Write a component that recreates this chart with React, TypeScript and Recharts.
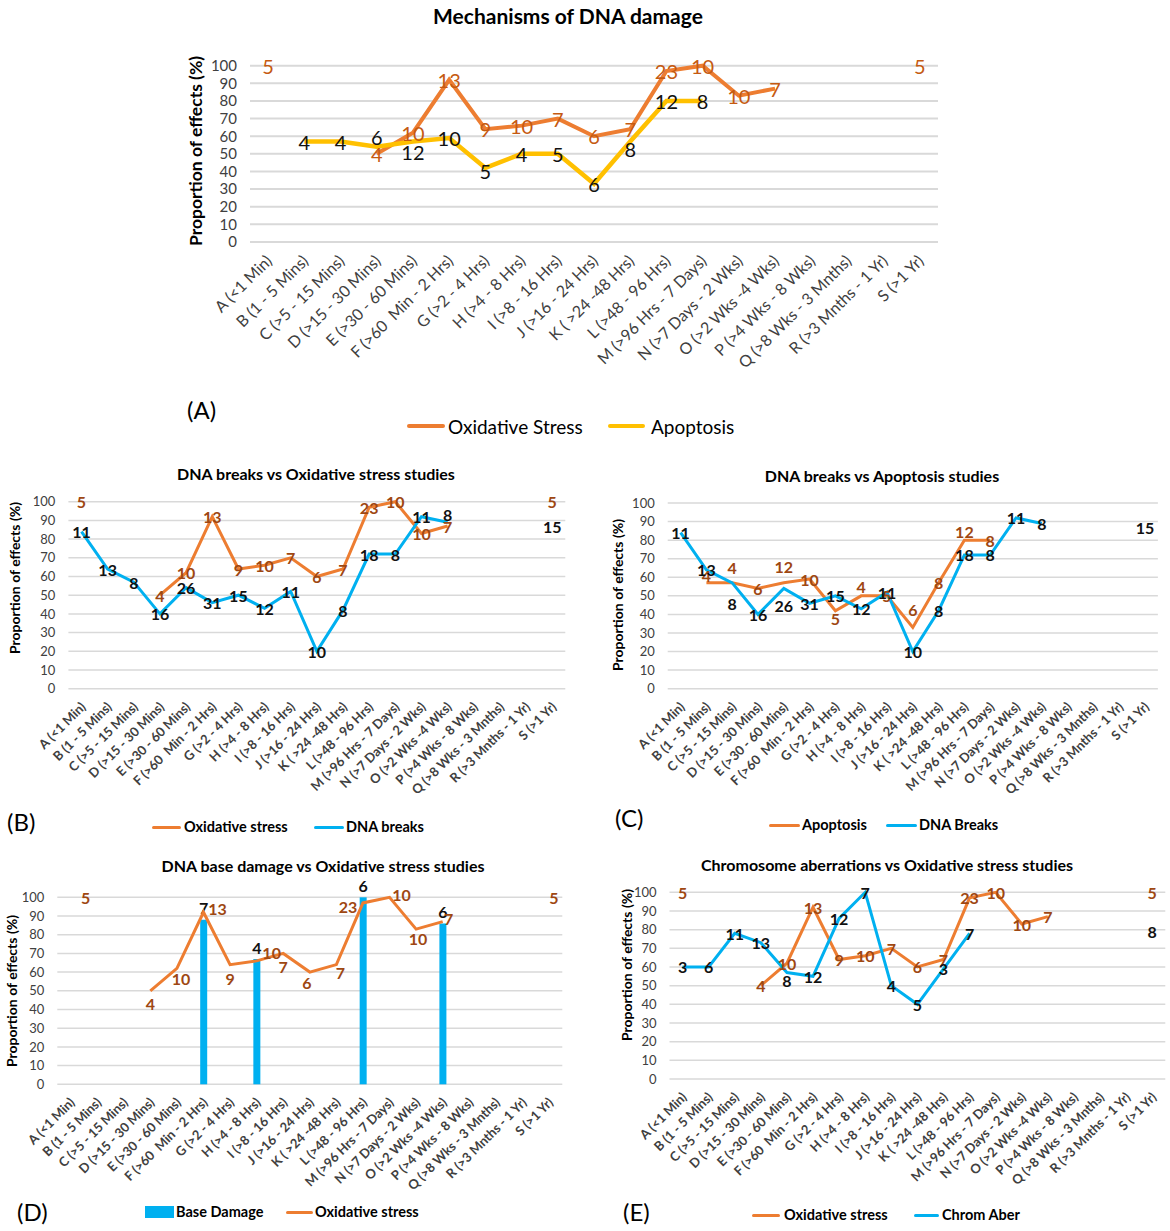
import React from 'react';
import { ComposedChart, Line, Bar, XAxis, YAxis, CartesianGrid } from 'recharts';

const FONT = 'Lato, "Open Sans", Arial, sans-serif';

const categories = [
  'A (<1 Min)', 'B (1 - 5 Mins)', 'C (>5 - 15 Mins)', 'D (>15 - 30 Mins)', 'E (>30 - 60 Mins)',
  'F (>60  Min - 2 Hrs)', 'G (>2 - 4 Hrs)', 'H (>4 - 8 Hrs)', 'I (>8 - 16 Hrs)', 'J (>16 - 24 Hrs)',
  'K ( >24 -48 Hrs)', 'L (>48 - 96 Hrs)', 'M (>96 Hrs - 7 Days)', 'N (>7 Days - 2 Wks)', 'O (>2 Wks -4 Wks)',
  'P (>4 Wks - 8 Wks)', 'Q (>8 Wks - 3 Mnths)', 'R (>3 Mnths - 1 Yr)', 'S (>1 Yr)',
];
const yTicks = [0, 10, 20, 30, 40, 50, 60, 70, 80, 90, 100];

const oxidativeValues = [100, null, null, 50, 62, 92, 64, 66, 70, 60, 64, 97, 100, 83, 87, null, null, null, 100];
const oxidativeCounts = [5, null, null, 4, 10, 13, 9, 10, 7, 6, 7, 23, 10, 10, 7, null, null, null, 5];
const apoptosisValues = [null, 57, 57, 54, 57, 59, 42, 50, 50, 33, 57, 80, 80, null, null, null, null, null, null];
const apoptosisCounts = [null, 4, 4, 6, 12, 10, 5, 4, 5, 6, 8, 12, 8, null, null, null, null, null, null];
const dnaBreakValues = [84, 64, 57, 40, 54, 46, 50, 43, 52, 20, 42, 72, 72, 92, 89, null, null, null, 87];
const dnaBreakCounts = [11, 13, 8, 16, 26, 31, 15, 12, 11, 10, 8, 18, 8, 11, 8, null, null, null, 15];
const baseDamageValues = [null, null, null, null, null, 88, null, 67, null, null, null, 100, null, null, 86, null, null, null, null];
const baseDamageCounts = [null, null, null, null, null, 7, null, 4, null, null, null, 6, null, null, 6, null, null, null, null];
const chromAberValues = [60, 60, 78, 73, 57, 55, 86, 100, 50, 40, 59, 78, null, null, null, null, null, null, 79];
const chromAberCounts = [3, 6, 11, 13, 8, 12, 12, 7, 4, 5, 3, 7, null, null, null, null, null, null, 8];

const data = categories.map((cat, i) => ({
  cat,
  ox: oxidativeValues[i], oxN: oxidativeCounts[i],
  apo: apoptosisValues[i], apoN: apoptosisCounts[i],
  brk: dnaBreakValues[i], brkN: dnaBreakCounts[i],
  base: baseDamageValues[i], baseN: baseDamageCounts[i],
  chr: chromAberValues[i], chrN: chromAberCounts[i],
}));

// label placement tweaks (dx, dy) per category index
type Shift = Record<number, [number, number]>;
const apoShiftA: Shift = { 3: [0, -10], 4: [0, 10], 6: [0, 3], 10: [0, 7] };
const brkShiftB: Shift = { 14: [0, -8] };
const apoShiftC: Shift = { 1: [0, -7], 2: [0, -15], 4: [0, -16], 6: [0, 8], 7: [0, -9], 9: [0, -18], 11: [0, -9] };
const brkShiftC: Shift = { 2: [0, 21], 4: [0, 17] };
const oxShiftD: Shift = {
  0: [15, 0], 3: [0, 13], 4: [4, 10], 5: [14, -4], 6: [0, 14], 7: [15, -8], 8: [0, 13], 9: [-3, 10],
  10: [4, 8], 11: [-15, 4], 12: [12, -3], 13: [2, 9], 14: [6, -3], 18: [5, 0],
};
const baseShiftD: Record<number, number> = { 5: -17, 7: -10, 11: -14, 14: -17 };
const chrShiftE: Shift = { 4: [0, 8] };

const ORANGE = '#ED7D31';
const YELLOW = '#FFC000';
const BLUE = '#00B0F0';
const ORANGE_LBL_A = '#C55A11';
const ORANGE_LBL = '#9E4712';
const BLACK_LBL = '#111111';

function makeDotLabel(countKey: string, color: string, size: number, weight: any, shifts: Shift = {}) {
  return (props: any) => {
    const { cx, cy, payload, index } = props;
    const v = payload ? payload[countKey] : null;
    const k = `${countKey}-${index}`;
    if (cx == null || cy == null || v == null || Number.isNaN(cy)) return <g key={k} />;
    const s = shifts[index] || [0, 0];
    return (
      <text key={k} x={cx + s[0]} y={cy + s[1]} textAnchor="middle" dominantBaseline="central"
        fill={color} fontSize={size} fontWeight={weight} fontFamily={FONT}>{v}</text>
    );
  };
}

function makeBarShape(countKey: string, fill: string, shifts: Record<number, number>) {
  return (props: any) => {
    const { x, y, width, height, payload, index } = props;
    if (!height || height <= 0 || payload == null || payload[countKey] == null) return <g />;
    const dy = shifts[index] ?? -12;
    return (
      <g>
        <rect x={x} y={y} width={width} height={height} fill={fill} />
        <text x={x + width / 2} y={y + dy} textAnchor="middle" dominantBaseline="central"
          fill={BLACK_LBL} fontSize={16} fontWeight="bold" fontFamily={FONT}>{payload[countKey]}</text>
      </g>
    );
  };
}

function makeXTick(size: number, weight: any, dx: number, dy: number) {
  return (props: any) => {
    const { x, y, payload } = props;
    const ax = x + dx;
    const ay = y + dy;
    return (
      <text x={ax} y={ay} transform={`rotate(-45 ${ax} ${ay})`} textAnchor="end" fontSize={size}
        fontWeight={weight} fontFamily={FONT} fill="#404040" style={{ whiteSpace: 'pre' }}>
        {payload.value}
      </text>
    );
  };
}

function Panel(props: any) {
  const { left, top, width, plot, xHeight, yWidth, gridWidth, tickFont, xTick, children } = props;
  const [px, py, pw, ph] = plot;
  const margin = { left: px - left - yWidth, top: py - top, right: left + width - (px + pw), bottom: 4 };
  const height = py + ph - top + xHeight + 4;
  return (
    <div style={{ position: 'absolute', left, top }}>
      <ComposedChart width={width} height={height} data={data} margin={margin} style={{ overflow: 'visible' }}>
        <CartesianGrid vertical={false} stroke="#D9D9D9" strokeWidth={gridWidth} />
        <XAxis dataKey="cat" scale="band" interval={0} tickLine={false} axisLine={false} height={xHeight} tick={xTick} />
        <YAxis domain={[0, 100]} ticks={yTicks} interval={0} width={yWidth} tickLine={false} axisLine={false}
          tickMargin={7} tick={{ fontSize: tickFont, fill: '#404040', fontFamily: FONT }} />
        {children}
      </ComposedChart>
    </div>
  );
}

function T(props: any) {
  const { x, y, size, weight = 'normal', anchor = 'start', color = '#000', rotate = false, children } = props;
  const tx = anchor === 'middle' ? '-50%' : '0';
  const transform = rotate ? 'translate(-50%, -50%) rotate(-90deg)' : `translate(${tx}, -50%)`;
  return (
    <div style={{
      position: 'absolute', left: x, top: y, transform, fontFamily: FONT, fontSize: size, fontWeight: weight,
      color, whiteSpace: 'nowrap', lineHeight: 1, zIndex: 5,
    }}>{children}</div>
  );
}

function Swatch(props: any) {
  const { x1, x2, y, h, color } = props;
  return <div style={{ position: 'absolute', left: x1, top: y - h / 2, width: x2 - x1, height: h, background: color, borderRadius: h / 2, zIndex: 5 }} />;
}

export default function App() {
  const tickA = makeXTick(16, 'normal', 5, 12);
  const tickS = makeXTick(13, 'bold', 5, 11);
  return (
    <div style={{ position: 'absolute', left: 0, top: 0, width: 1170, height: 1231, background: '#fff', overflow: 'hidden' }}>
      {/* Panel A */}
      <Panel left={0} top={28} width={1170} plot={[250, 65.7, 688, 176.3]} xHeight={140} yWidth={70} gridWidth={2} tickFont={15} xTick={tickA}>
        <Line dataKey="ox" stroke={ORANGE} strokeWidth={4} isAnimationActive={false} activeDot={false}
          dot={makeDotLabel('oxN', ORANGE_LBL_A, 20, 'normal')} />
        <Line dataKey="apo" stroke={YELLOW} strokeWidth={4.5} isAnimationActive={false} activeDot={false}
          dot={makeDotLabel('apoN', BLACK_LBL, 20, 'normal', apoShiftA)} />
      </Panel>
      <T x={568} y={15} size={21} weight="bold" anchor="middle">Mechanisms of DNA damage</T>
      <T x={196} y={151} size={17.5} weight="bold" rotate>Proportion of effects (%)</T>
      <T x={187} y={410} size={24}>(A)</T>
      <Swatch x1={407} x2={445} y={426} h={4} color={ORANGE} />
      <T x={448} y={426} size={19}>Oxidative Stress</T>
      <Swatch x1={608} x2={645} y={426} h={4} color={YELLOW} />
      <T x={651} y={426} size={19}>Apoptosis</T>

      {/* Panel B */}
      <Panel left={0} top={480} width={580} plot={[68.4, 501.7, 496.9, 187]} xHeight={110} yWidth={50} gridWidth={1.5} tickFont={13} xTick={tickS}>
        <Line dataKey="ox" stroke={ORANGE} strokeWidth={3} isAnimationActive={false} activeDot={false}
          dot={makeDotLabel('oxN', ORANGE_LBL, 16, 'bold')} />
        <Line dataKey="brk" stroke={BLUE} strokeWidth={3} isAnimationActive={false} activeDot={false}
          dot={makeDotLabel('brkN', BLACK_LBL, 16, 'bold', brkShiftB)} />
      </Panel>
      <T x={316} y={474} size={16} weight="bold" anchor="middle">DNA breaks vs Oxidative stress studies</T>
      <T x={15} y={578} size={14} weight="bold" rotate>Proportion of effects (%)</T>
      <T x={7} y={822} size={24}>(B)</T>
      <Swatch x1={152} x2={181} y={827} h={3} color={ORANGE} />
      <T x={184} y={827} size={14.5} weight="bold">Oxidative stress</T>
      <Swatch x1={314} x2={344} y={827} h={3} color={BLUE} />
      <T x={346} y={827} size={14.5} weight="bold">DNA breaks</T>

      {/* Panel C */}
      <Panel left={590} top={480} width={580} plot={[667.7, 503, 490.2, 185.7]} xHeight={110} yWidth={50} gridWidth={1.5} tickFont={13} xTick={tickS}>
        <Line dataKey="apo" stroke={ORANGE} strokeWidth={3} isAnimationActive={false} activeDot={false}
          dot={makeDotLabel('apoN', ORANGE_LBL, 16, 'bold', apoShiftC)} />
        <Line dataKey="brk" stroke={BLUE} strokeWidth={3} isAnimationActive={false} activeDot={false}
          dot={makeDotLabel('brkN', BLACK_LBL, 16, 'bold', brkShiftC)} />
      </Panel>
      <T x={882} y={476} size={16} weight="bold" anchor="middle">DNA breaks vs Apoptosis studies</T>
      <T x={618} y={595} size={14} weight="bold" rotate>Proportion of effects (%)</T>
      <T x={615} y={818} size={24}>(C)</T>
      <Swatch x1={769} x2={800} y={825} h={3} color={ORANGE} />
      <T x={802} y={825} size={14.5} weight="bold">Apoptosis</T>
      <Swatch x1={886} x2={917} y={825} h={3} color={BLUE} />
      <T x={919} y={825} size={14.5} weight="bold">DNA Breaks</T>

      {/* Panel D */}
      <Panel left={0} top={860} width={580} plot={[57.3, 897.3, 505, 187]} xHeight={110} yWidth={40} gridWidth={1.5} tickFont={13} xTick={tickS}>
        <Bar dataKey="base" fill={BLUE} barSize={7} isAnimationActive={false} shape={makeBarShape('baseN', BLUE, baseShiftD)} />
        <Line dataKey="ox" stroke={ORANGE} strokeWidth={3} isAnimationActive={false} activeDot={false}
          dot={makeDotLabel('oxN', ORANGE_LBL, 16, 'bold', oxShiftD)} />
      </Panel>
      <T x={323} y={866} size={16} weight="bold" anchor="middle">DNA base damage vs Oxidative stress studies</T>
      <T x={12} y={991} size={14} weight="bold" rotate>Proportion of effects (%)</T>
      <T x={17} y={1212} size={24}>(D)</T>
      <div style={{ position: 'absolute', left: 145, top: 1206, width: 29, height: 12, background: BLUE, zIndex: 5 }} />
      <T x={176} y={1212} size={14.5} weight="bold">Base Damage</T>
      <Swatch x1={286} x2={313} y={1212} h={3} color={ORANGE} />
      <T x={315} y={1212} size={14.5} weight="bold">Oxidative stress</T>

      {/* Panel E */}
      <Panel left={590} top={860} width={580} plot={[669.5, 892.3, 495.8, 186.7]} xHeight={110} yWidth={50} gridWidth={1.5} tickFont={13} xTick={tickS}>
        <Line dataKey="ox" stroke={ORANGE} strokeWidth={3} isAnimationActive={false} activeDot={false}
          dot={makeDotLabel('oxN', ORANGE_LBL, 16, 'bold')} />
        <Line dataKey="chr" stroke={BLUE} strokeWidth={3} isAnimationActive={false} activeDot={false}
          dot={makeDotLabel('chrN', BLACK_LBL, 16, 'bold', chrShiftE)} />
      </Panel>
      <T x={887} y={865} size={16} weight="bold" anchor="middle">Chromosome aberrations vs Oxidative stress studies</T>
      <T x={627} y={965} size={14} weight="bold" rotate>Proportion of effects (%)</T>
      <T x={623} y={1212} size={24}>(E)</T>
      <Swatch x1={752} x2={780} y={1215} h={3} color={ORANGE} />
      <T x={784} y={1215} size={14.5} weight="bold">Oxidative stress</T>
      <Swatch x1={914} x2={939} y={1215} h={3} color={BLUE} />
      <T x={942} y={1215} size={14.5} weight="bold">Chrom Aber</T>
    </div>
  );
}
